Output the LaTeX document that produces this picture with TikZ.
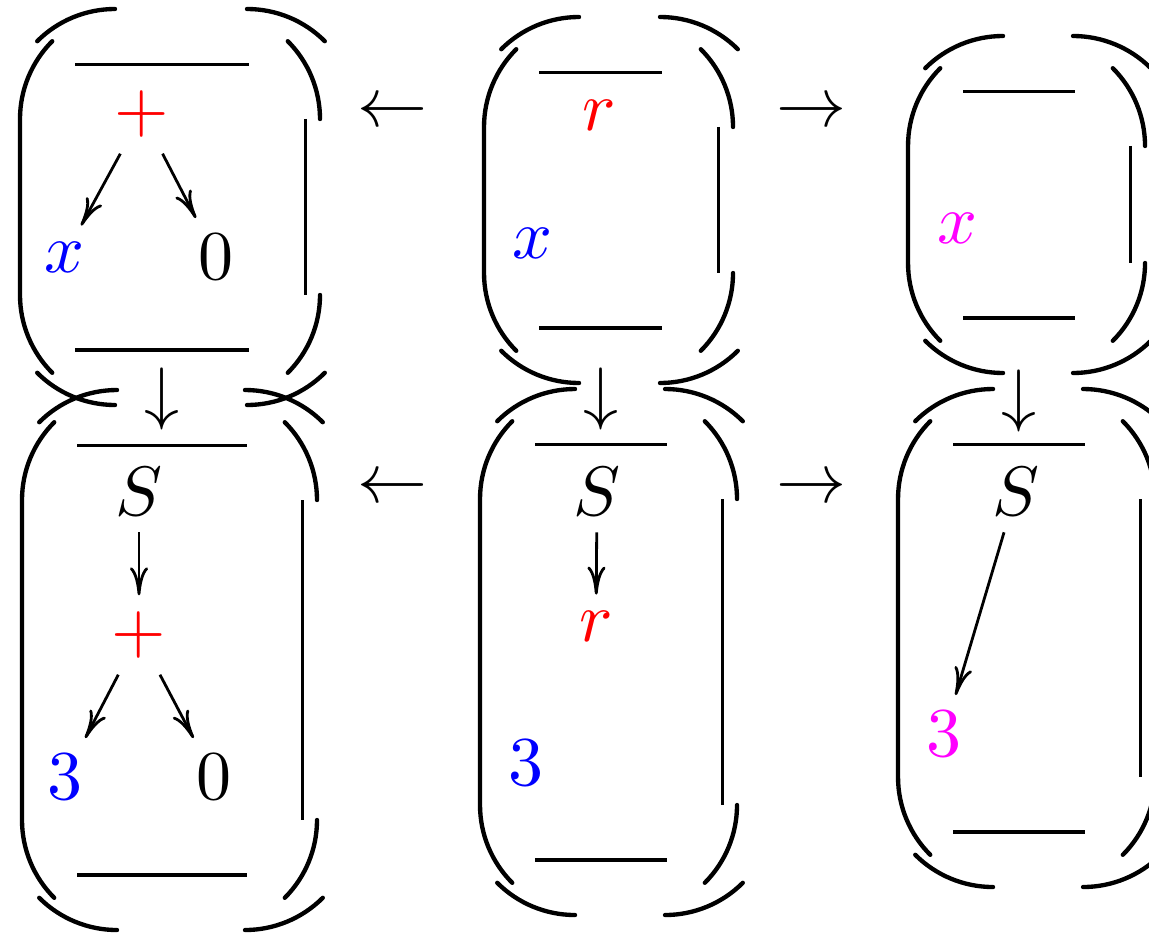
\documentclass[tikz,border=0pt]{standalone}
\usetikzlibrary{arrows.meta,calc}
\definecolor{cred}{RGB}{255,0,0}
\definecolor{cblue}{RGB}{0,0,255}
\definecolor{cmag}{RGB}{255,0,255}
\tikzset{
  hookline/.style={line width=0.62pt,line cap=round},
  extline/.style={line width=0.47pt},
  m/.style={inner sep=2.14pt},
  conn/.style={line width=0.4pt,-{Computer Modern Rightarrow[length=4pt,width=2.6pt]}},
  glyph/.style={inner sep=0pt}
}
% #1=L #2=R #3=T #4=B #5=xa #6=xb  (pixel coordinates, y downwards)
\newcommand\dpobox[6]{%
  \draw[hookline] ($(#1,#3)+(32.22,32.22)$) arc[start angle=225,end angle=180,radius=110]
     -- ($(#1,#4)+(0,-110)$) arc[start angle=180,end angle=135,radius=110];
  \draw[hookline] ($(#2,#3)+(-32.22,32.22)$) arc[start angle=315,end angle=360,radius=110];
  \draw[hookline] ($(#2,#4)+(0,-110)$) arc[start angle=0,end angle=45,radius=110];
  \draw[extline] ($(#2,#3)+(-14.5,110)$) -- ($(#2,#4)+(-14.5,-110)$);
  \draw[hookline] ($(#5,#3)+(-77.78,32.22)$) arc[start angle=225,end angle=270,radius=110];
  \draw[hookline] (#6,#3) arc[start angle=270,end angle=315,radius=110];
  \draw[hookline] ($(#5,#4)+(-77.78,-32.22)$) arc[start angle=135,end angle=90,radius=110];
  \draw[hookline] (#6,#4) arc[start angle=90,end angle=45,radius=110];
  \draw[extline] ($(#5,#3)+(-40,55.5)$) -- ($(#6,#3)+(1.5,55.5)$);
  \draw[extline] ($(#5,#4)+(-40,-55)$) -- ($(#6,#4)+(1.5,-55)$);
}
\begin{document}
\begin{tikzpicture}[x=0.142857pt,y=-0.142857pt]
\useasboundingbox (0,0) rectangle (1149,932);
% boxes
\dpobox{20}{320}{9}{405}{115}{247}
\dpobox{484}{733}{17}{383}{579}{660}
\dpobox{908}{1145}{36}{373}{1003}{1073}
\dpobox{22}{317}{390}{930}{117}{245}
\dpobox{480}{737}{389}{915}{575}{665}
\dpobox{898}{1155}{389}{887}{993}{1083}
% box A
\node[m,text=cred] (aplus) at (142,114) {$+$};
\node[m,text=cblue] (ax) at (64,257) {$x$};
\node[m] (a0) at (216,257) {$0$};
\draw[conn] (aplus) -- (ax);
\draw[conn] (aplus) -- (a0);
% box B
\node[m,text=cred] (br) at (599,115) {$r$};
\node[m,text=cblue] (bx) at (532,243) {$x$};
% box C
\node[m,text=cmag] (cx) at (957,228) {$x$};
% box D
\node[m] (dS) at (139,492) {$S$};
\node[m,text=cred] (dplus) at (139,635) {$+$};
\node[m,text=cblue] (d3) at (65,777) {$3$};
\node[m] (d0) at (214,777) {$0$};
\draw[conn] (dS) -- (dplus);
\draw[conn] (dplus) -- (d3);
\draw[conn] (dplus) -- (d0);
% box E
\node[m] (eS) at (597,492) {$S$};
\node[m,text=cred] (er) at (596,626) {$r$};
\node[m,text=cblue] (e3) at (526,763) {$3$};
\draw[conn] (eS) -- (er);
% box F
\node[m] (fS) at (1016,492) {$S$};
\node[m,text=cmag] (f3) at (944,734) {$3$};
\draw[conn] (fS) -- (f3);
% morphism glyphs
\node[glyph] (l1) at (392,114) {$\leftarrow$};
\node[glyph] (r1) at (811,114) {$\rightarrow$};
\node[glyph] (l2) at (392,490) {$\leftarrow$};
\node[glyph] (r2) at (811,490) {$\rightarrow$};
\node[glyph] (d1) at (162,399) {$\downarrow$};
\node[glyph] (d2) at (601,399) {$\downarrow$};
\node[glyph] (d3a) at (1019,401) {$\downarrow$};
\end{tikzpicture}
\end{document}
